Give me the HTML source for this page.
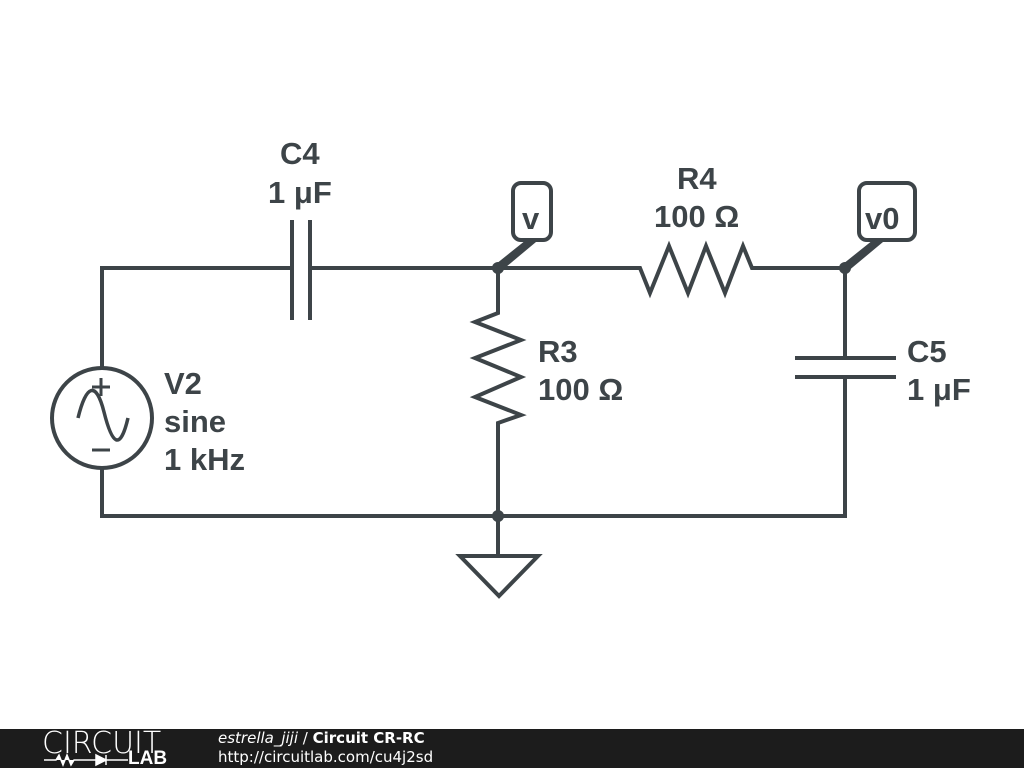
<!DOCTYPE html>
<html><head><style>
body{margin:0;width:1024px;height:768px;background:#fff;overflow:hidden;position:relative;font-family:"Liberation Sans",sans-serif}
.t{font-family:"Liberation Sans",sans-serif;font-weight:bold;font-size:31px;fill:#3d4448}
</style></head><body>
<svg width="1024" height="768" style="position:absolute;left:0;top:0">
<g stroke="#3d4448" stroke-width="4" fill="none" stroke-linejoin="miter">
<path d="M102 368 V268 H292 M310 268 H640 L650 293 L669 246 L688 293 L706 246 L725 293 L743 246 L752 268 H845 V358"/>
<path d="M292 220 V320 M310 220 V320"/>
<path d="M498 268 V313 L475 322 L521 340 L475 358 L521 377 L475 397 L521 415 L498 423 V556"/>
<path d="M795 358 H896 M795 377 H896 M845 377 V516 H102 V468"/>
<circle cx="102" cy="418" r="50"/>
<path d="M78 418 C86 385 96 380 104 412 S120 452 128 418" stroke-width="3.5"/>
<path d="M92 387 H110 M101 378 V396 M92 450 H110" stroke-width="3"/>
<path d="M460 556 H538 L499 596 Z"/>
<rect x="513" y="183" width="38" height="57" rx="8"/>
<rect x="859" y="183" width="56" height="57" rx="8"/>
</g>
<g fill="#3d4448">
<circle cx="498" cy="268" r="6"/><circle cx="845" cy="268" r="6"/><circle cx="498" cy="516" r="6"/>
<polygon points="496,264 500,272 536,242 526,240"/>
<polygon points="843,264 847,272 883,242 873,240"/>
</g>
<text class="t" x="280" y="164">C4</text>
<text class="t" x="268" y="203">1 μF</text>
<text class="t" x="677" y="189">R4</text>
<text class="t" x="654" y="227">100 Ω</text>
<text class="t" x="522" y="229">v</text>
<text class="t" x="865" y="229">v0</text>
<text class="t" x="538" y="362">R3</text>
<text class="t" x="538" y="400">100 Ω</text>
<text class="t" x="907" y="362">C5</text>
<text class="t" x="907" y="400">1 μF</text>
<text class="t" x="164" y="394">V2</text>
<text class="t" x="164" y="432">sine</text>
<text class="t" x="164" y="470">1 kHz</text>
</svg>
<div style="position:absolute;left:0;top:729px;width:1024px;height:39px;background:#1c1c1c"></div>
<div style="position:absolute;left:42px;top:726px;color:#fff;font-size:30px;letter-spacing:0px;font-family:'DejaVu Sans',sans-serif;font-weight:200;transform:scaleX(1.0)">CIRCUIT</div>
<div style="position:absolute;left:128px;top:749px;color:#fff;font-size:19px;font-weight:bold;line-height:19px">LAB</div>
<svg width="90" height="14" style="position:absolute;left:44px;top:753px"><path d="M0 7 H12 L15 2 L19 12 L23 2 L27 12 L30 7 H52 M52 2 V12 L62 7 Z M62 2 V12 M62 7 H84" stroke="#fff" stroke-width="1.5" fill="#fff"/></svg>
<div style="position:absolute;left:218px;top:729px;color:#fff;font-size:15px;font-family:'DejaVu Sans',sans-serif"><i>estrella_jiji</i> / <b>Circuit CR-RC</b></div>
<div style="position:absolute;left:218px;top:748px;color:#fff;font-size:15px;font-family:'DejaVu Sans',sans-serif">http://circuitlab.com/cu4j2sd</div>
</body></html>
